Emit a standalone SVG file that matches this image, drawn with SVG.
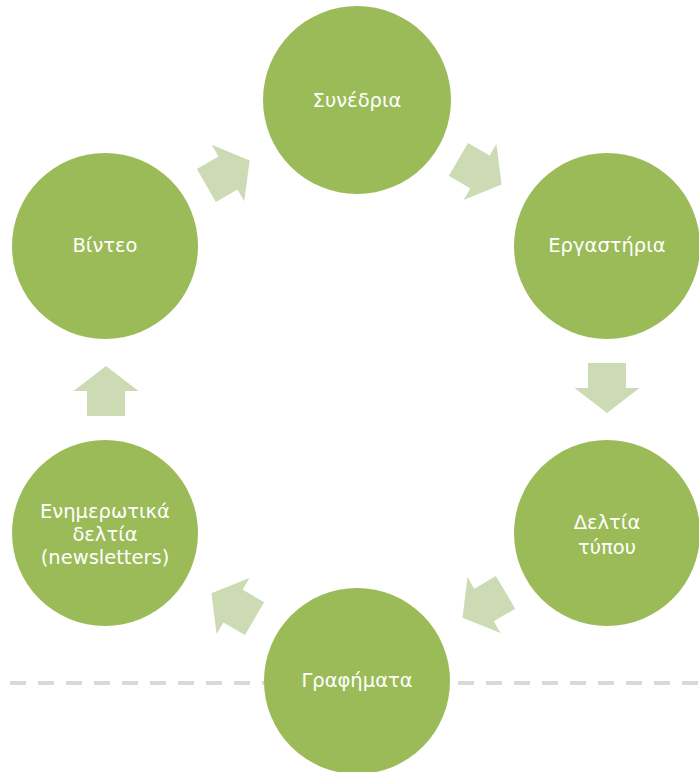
<svg xmlns="http://www.w3.org/2000/svg" width="699" height="772" viewBox="0 0 699 772">
<defs>
<style>
.node{fill:#9bbb59;}
.arrow{fill:#cddbb5;}
.lbl{font-family:"DejaVu Sans","Noto Sans",sans-serif;font-size:19.5px;fill:#ffffff;text-anchor:middle;}
.dash{stroke:#d9d9d9;stroke-width:4;stroke-dasharray:16 12;fill:none;}
</style>
<polygon id="arr" points="-25,-19 0,-19 0,-32.5 25,0 0,32.5 0,19 -25,19"/>
</defs>
<rect width="699" height="772" fill="#ffffff"/>
<line class="dash" x1="10" y1="683" x2="699" y2="683"/>
<g id="connectors">
<use href="#arr" class="arrow" transform="translate(480,172) rotate(30.3)"/>
<use href="#arr" class="arrow" transform="translate(607,388) rotate(90)"/>
<use href="#arr" class="arrow" transform="translate(484,605) rotate(149.4)"/>
<use href="#arr" class="arrow" transform="translate(233,606) rotate(210.4)"/>
<use href="#arr" class="arrow" transform="translate(106,391) rotate(-90)"/>
<use href="#arr" class="arrow" transform="translate(228,173) rotate(-30)"/>
</g>
<g id="n1"><circle class="node" cx="357" cy="100" r="94"/><text class="lbl" x="357" y="107">Συνέδρια</text></g>
<g id="n2"><circle class="node" cx="607" cy="246" r="93"/><text class="lbl" x="607" y="252">Εργαστήρια</text></g>
<g id="n3"><circle class="node" cx="607" cy="533" r="93"/><text class="lbl" x="607" y="529">Δελτία</text><text class="lbl" x="607" y="554">τύπου</text></g>
<g id="n4"><circle class="node" cx="357" cy="681" r="93"/><text class="lbl" x="357" y="687">Γραφήματα</text></g>
<g id="n5"><circle class="node" cx="105" cy="533" r="93"/><text class="lbl" x="105" y="518">Ενημερωτικά</text><text class="lbl" x="105" y="541">δελτία</text><text class="lbl" x="105" y="564">(newsletters)</text></g>
<g id="n6"><circle class="node" cx="105" cy="246" r="93"/><text class="lbl" x="105" y="252">Βίντεο</text></g>
</svg>
